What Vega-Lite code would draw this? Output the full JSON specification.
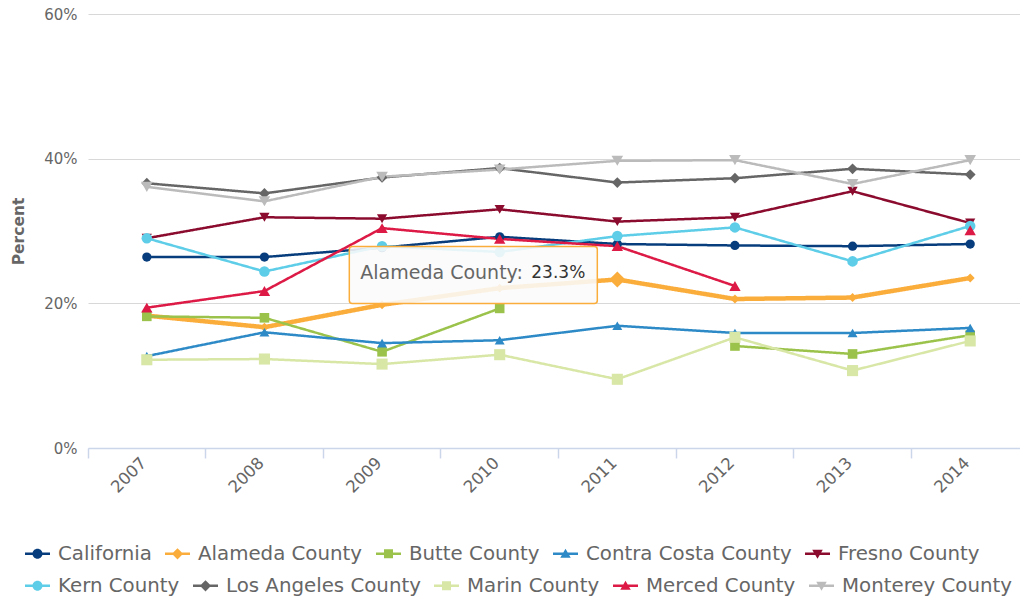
{
  "$schema": "https://vega.github.io/schema/vega-lite/v6.json",
  "autosize": {"type": "none"},
  "width": 941,
  "height": 434,
  "padding": {"left": 88, "top": 14, "right": -9, "bottom": 150},
  "background": "white",
  "config": {"view": {"stroke": null}, "font": "DejaVu Sans"},
  "datasets": {
    "main": [
      {"year": "2007", "series": "California", "value": 26.4},
      {"year": "2008", "series": "California", "value": 26.4},
      {"year": "2009", "series": "California", "value": 27.7},
      {"year": "2010", "series": "California", "value": 29.2},
      {"year": "2011", "series": "California", "value": 28.2},
      {"year": "2012", "series": "California", "value": 28.0},
      {"year": "2013", "series": "California", "value": 27.9},
      {"year": "2014", "series": "California", "value": 28.2},
      {"year": "2007", "series": "Alameda County", "value": 18.3},
      {"year": "2008", "series": "Alameda County", "value": 16.7},
      {"year": "2009", "series": "Alameda County", "value": 19.8},
      {"year": "2010", "series": "Alameda County", "value": 22.1},
      {"year": "2011", "series": "Alameda County", "value": 23.3},
      {"year": "2012", "series": "Alameda County", "value": 20.6},
      {"year": "2013", "series": "Alameda County", "value": 20.8},
      {"year": "2014", "series": "Alameda County", "value": 23.5},
      {"year": "2007", "series": "Butte County", "value": 18.2},
      {"year": "2008", "series": "Butte County", "value": 18.0},
      {"year": "2009", "series": "Butte County", "value": 13.3},
      {"year": "2010", "series": "Butte County", "value": 19.3},
      {"year": "2011", "series": "Butte County", "value": null},
      {"year": "2012", "series": "Butte County", "value": 14.1},
      {"year": "2013", "series": "Butte County", "value": 13.0},
      {"year": "2014", "series": "Butte County", "value": 15.6},
      {"year": "2007", "series": "Contra Costa County", "value": 12.7},
      {"year": "2008", "series": "Contra Costa County", "value": 16.0},
      {"year": "2009", "series": "Contra Costa County", "value": 14.5},
      {"year": "2010", "series": "Contra Costa County", "value": 14.9},
      {"year": "2011", "series": "Contra Costa County", "value": 16.9},
      {"year": "2012", "series": "Contra Costa County", "value": 15.9},
      {"year": "2013", "series": "Contra Costa County", "value": 15.9},
      {"year": "2014", "series": "Contra Costa County", "value": 16.6},
      {"year": "2007", "series": "Fresno County", "value": 29.0},
      {"year": "2008", "series": "Fresno County", "value": 31.9},
      {"year": "2009", "series": "Fresno County", "value": 31.7},
      {"year": "2010", "series": "Fresno County", "value": 33.0},
      {"year": "2011", "series": "Fresno County", "value": 31.3},
      {"year": "2012", "series": "Fresno County", "value": 31.9},
      {"year": "2013", "series": "Fresno County", "value": 35.5},
      {"year": "2014", "series": "Fresno County", "value": 31.1},
      {"year": "2007", "series": "Kern County", "value": 29.0},
      {"year": "2008", "series": "Kern County", "value": 24.4},
      {"year": "2009", "series": "Kern County", "value": 27.9},
      {"year": "2010", "series": "Kern County", "value": 27.1},
      {"year": "2011", "series": "Kern County", "value": 29.3},
      {"year": "2012", "series": "Kern County", "value": 30.5},
      {"year": "2013", "series": "Kern County", "value": 25.8},
      {"year": "2014", "series": "Kern County", "value": 30.7},
      {"year": "2007", "series": "Los Angeles County", "value": 36.6},
      {"year": "2008", "series": "Los Angeles County", "value": 35.2},
      {"year": "2009", "series": "Los Angeles County", "value": 37.4},
      {"year": "2010", "series": "Los Angeles County", "value": 38.7},
      {"year": "2011", "series": "Los Angeles County", "value": 36.7},
      {"year": "2012", "series": "Los Angeles County", "value": 37.3},
      {"year": "2013", "series": "Los Angeles County", "value": 38.6},
      {"year": "2014", "series": "Los Angeles County", "value": 37.8},
      {"year": "2007", "series": "Marin County", "value": 12.2},
      {"year": "2008", "series": "Marin County", "value": 12.3},
      {"year": "2009", "series": "Marin County", "value": 11.6},
      {"year": "2010", "series": "Marin County", "value": 12.9},
      {"year": "2011", "series": "Marin County", "value": 9.5},
      {"year": "2012", "series": "Marin County", "value": 15.3},
      {"year": "2013", "series": "Marin County", "value": 10.7},
      {"year": "2014", "series": "Marin County", "value": 14.8},
      {"year": "2007", "series": "Merced County", "value": 19.4},
      {"year": "2008", "series": "Merced County", "value": 21.7},
      {"year": "2009", "series": "Merced County", "value": 30.4},
      {"year": "2010", "series": "Merced County", "value": 28.9},
      {"year": "2011", "series": "Merced County", "value": 27.9},
      {"year": "2012", "series": "Merced County", "value": 22.4},
      {"year": "2013", "series": "Merced County", "value": null},
      {"year": "2014", "series": "Merced County", "value": 30.1},
      {"year": "2007", "series": "Monterey County", "value": 36.1},
      {"year": "2008", "series": "Monterey County", "value": 34.1},
      {"year": "2009", "series": "Monterey County", "value": 37.5},
      {"year": "2010", "series": "Monterey County", "value": 38.5},
      {"year": "2011", "series": "Monterey County", "value": 39.7},
      {"year": "2012", "series": "Monterey County", "value": 39.8},
      {"year": "2013", "series": "Monterey County", "value": 36.5},
      {"year": "2014", "series": "Monterey County", "value": 39.8}
    ],
    "tip": [
      {"year": "2011", "series": "Alameda County", "value": 23.3, "label": "Alameda County:", "num": "23.3%"}
    ]
  },
  "encoding": {
    "x": {
      "field": "year", "type": "ordinal",
      "scale": {"type": "band", "paddingInner": 0, "paddingOuter": 0, "domain": ["2007","2008","2009","2010","2011","2012","2013","2014"]},
      "axis": {
        "title": null, "grid": false, "bandPosition": 0,
        "domainColor": "#ccd6eb", "domainWidth": 1.5, "tickColor": "#ccd6eb", "tickWidth": 1.5, "tickSize": 10,
        "labelAngle": -45, "labelAlign": "right", "labelBaseline": "middle", "labelPadding": 2, "labelOffset": -3,
        "labelColor": "#666666", "labelFontSize": 16.5, "labelFont": "DejaVu Sans"
      }
    },
    "y": {
      "field": "value", "type": "quantitative",
      "scale": {"domain": [0, 60], "nice": false, "zero": true},
      "axis": {
        "title": "Percent", "titleColor": "#666666", "titleFontSize": 15.5, "titleFontWeight": "bold", "titleFont": "DejaVu Sans", "titlePadding": 17,
        "values": [0, 20, 40, 60], "labelExpr": "datum.value + '%'",
        "domain": false, "ticks": false, "labelPadding": 11,
        "labelColor": "#666666", "labelFontSize": 15, "labelFont": "DejaVu Sans",
        "gridColor": "#d8d8d8", "gridWidth": 1.2
      }
    }
  },
  "layer": [
    {
      "data": {"name": "main"},
      "mark": {"type": "line", "invalid": "break-paths-show-domains"},
      "encoding": {
        "color": {
          "field": "series", "type": "nominal",
          "scale": {
            "domain": ["California","Alameda County","Butte County","Contra Costa County","Fresno County","Kern County","Los Angeles County","Marin County","Merced County","Monterey County"],
            "range": ["#073d7c","#fbad3c","#9bc34b","#2e8ac6","#8b0b2e","#5dcde8","#666666","#d8e6a6","#dc1a45","#bbbbbb"]
          },
          "legend": {
            "title": null, "orient": "none", "legendX": -63, "legendY": 527, "direction": "horizontal",
            "values": ["California","Alameda County","Butte County","Contra Costa County","Fresno County"],
            "columns": 5, "columnPadding": 13,
            "symbolSize": 625, "labelOffset": 8, "labelFontSize": 19.8, "labelFont": "DejaVu Sans", "labelColor": "#666666", "labelLimit": 400,
            "encode": {
              "symbols": {
                "update": {
                  "shape": {"signal": "['M-1,-0.1H1V0.1H-1ZM-0.4,0A0.4,0.4 0 1,1 0.4,0A0.4,0.4 0 1,1 -0.4,0Z','M-1,-0.1H1V0.1H-1ZM0,-0.45L0.45,0L0,0.45L-0.45,0Z','M-1,-0.1H1V0.1H-1ZM-0.36,-0.36H0.36V0.36H-0.36Z','M-1,-0.1H1V0.1H-1ZM0,-0.4L0.42,0.32H-0.42Z','M-1,-0.1H1V0.1H-1ZM0,0.4L-0.42,-0.32H0.42Z'][indexof(['California','Alameda County','Butte County','Contra Costa County','Fresno County','Kern County','Los Angeles County','Marin County','Merced County','Monterey County'], datum.value) % 5]"},
                  "fill": {"signal": "scale('color', datum.value)"},
                  "stroke": {"value": "transparent"},
                  "strokeWidth": {"value": 0},
                  "size": {"value": 625},
                  "opacity": {"value": 1},
                  "fillOpacity": {"value": 1}
                }
              }
            }
          }
        },
        "strokeDash": {
          "field": "series", "type": "nominal",
          "scale": {
            "domain": ["Kern County","Los Angeles County","Marin County","Merced County","Monterey County","California","Alameda County","Butte County","Contra Costa County","Fresno County"],
            "range": [[1,0],[1,0],[1,0],[1,0],[1,0],[1,0],[1,0],[1,0],[1,0],[1,0]]
          },
          "legend": {
            "title": null, "orient": "none", "legendX": -63, "legendY": 559, "direction": "horizontal",
            "values": ["Kern County","Los Angeles County","Marin County","Merced County","Monterey County"],
            "columns": 5, "columnPadding": 13,
            "symbolSize": 625, "labelOffset": 8, "labelFontSize": 19.8, "labelFont": "DejaVu Sans", "labelColor": "#666666", "labelLimit": 400,
            "encode": {
              "symbols": {
                "update": {
                  "shape": {"signal": "['M-1,-0.1H1V0.1H-1ZM-0.4,0A0.4,0.4 0 1,1 0.4,0A0.4,0.4 0 1,1 -0.4,0Z','M-1,-0.1H1V0.1H-1ZM0,-0.45L0.45,0L0,0.45L-0.45,0Z','M-1,-0.1H1V0.1H-1ZM-0.36,-0.36H0.36V0.36H-0.36Z','M-1,-0.1H1V0.1H-1ZM0,-0.4L0.42,0.32H-0.42Z','M-1,-0.1H1V0.1H-1ZM0,0.4L-0.42,-0.32H0.42Z'][indexof(['California','Alameda County','Butte County','Contra Costa County','Fresno County','Kern County','Los Angeles County','Marin County','Merced County','Monterey County'], datum.value) % 5]"},
                  "fill": {"signal": "scale('color', datum.value)"},
                  "stroke": {"value": "transparent"},
                  "strokeWidth": {"value": 0},
                  "strokeDash": {"value": []},
                  "size": {"value": 625},
                  "opacity": {"value": 1},
                  "fillOpacity": {"value": 1}
                }
              }
            }
          }
        },
        "strokeWidth": {"condition": {"test": "datum.series === 'Alameda County'", "value": 4.5}, "value": 2.5}
      }
    },
    {
      "data": {"name": "main"},
      "mark": {"type": "point", "filled": true, "opacity": 1, "strokeWidth": 0},
      "encoding": {
        "fill": {
          "field": "series", "type": "nominal",
          "scale": {
            "domain": ["Alameda County","California","Butte County","Contra Costa County","Fresno County","Kern County","Los Angeles County","Marin County","Merced County","Monterey County"],
            "range": ["#fbad3c","#073d7c","#9bc34b","#2e8ac6","#8b0b2e","#5dcde8","#666666","#d8e6a6","#dc1a45","#bbbbbb"]
          },
          "legend": null
        },
        "shape": {
          "field": "series", "type": "nominal",
          "scale": {
            "domain": ["Alameda County","California","Butte County","Contra Costa County","Fresno County","Kern County","Los Angeles County","Marin County","Merced County","Monterey County"],
            "range": ["diamond","circle","square","triangle-up","triangle-down","circle","diamond","square","triangle-up","triangle-down"]
          },
          "legend": null
        },
        "size": {
          "field": "series", "type": "nominal",
          "scale": {
            "domain": ["Alameda County","California","Butte County","Contra Costa County","Fresno County","Kern County","Los Angeles County","Marin County","Merced County","Monterey County"],
            "range": [80, 135, 144, 140, 140, 135, 80, 144, 140, 140]
          },
          "legend": null
        }
      }
    },
    {
      "data": {"name": "tip"},
      "mark": {"type": "point", "filled": false, "shape": "M-268,-30A3,3 0 0,1 -265,-33H-23A3,3 0 0,1 -20,-30V21A3,3 0 0,1 -23,24H-265A3,3 0 0,1 -268,21Z", "size": 4, "fill": "#fafafa", "fillOpacity": 0.88, "stroke": "#fbad3c", "strokeWidth": 1.5, "opacity": 1}
    },
    {
      "data": {"name": "tip"},
      "mark": {"type": "text", "align": "left", "baseline": "middle", "dx": -257, "dy": -6, "font": "DejaVu Sans", "fontSize": 19, "color": "#666666"},
      "encoding": {"text": {"field": "label"}}
    },
    {
      "data": {"name": "tip"},
      "mark": {"type": "text", "align": "right", "baseline": "middle", "dx": -32, "dy": -6, "font": "DejaVu Sans", "fontSize": 17, "color": "#333333"},
      "encoding": {"text": {"field": "num"}}
    },
    {
      "data": {"name": "tip"},
      "mark": {"type": "point", "filled": true, "shape": "diamond", "size": 260, "color": "#fbad3c", "opacity": 1}
    }
  ]
}
